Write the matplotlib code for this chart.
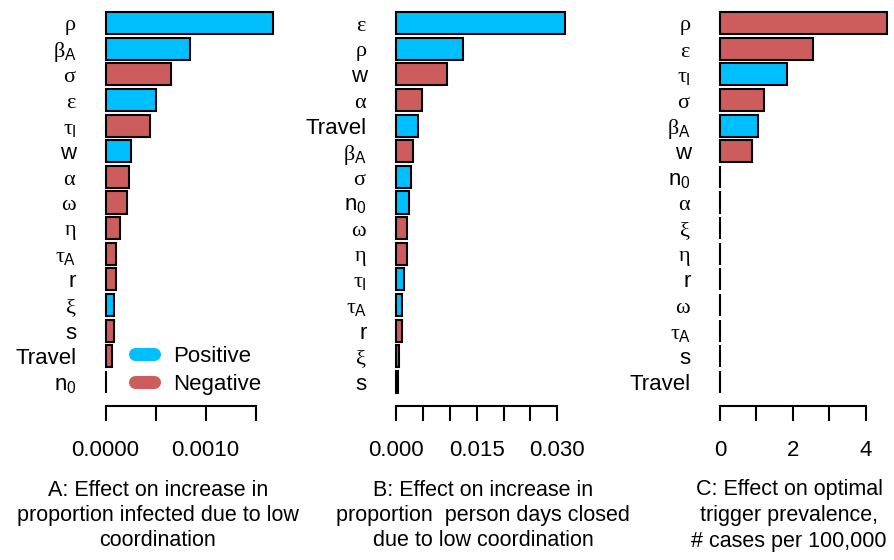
import matplotlib
matplotlib.use('Agg')
import matplotlib.pyplot as plt
from matplotlib.lines import Line2D

plt.rcParams['font.family'] = ['Liberation Sans', 'DejaVu Sans']
plt.rcParams['mathtext.fontset'] = 'custom'
plt.rcParams['mathtext.rm'] = 'Liberation Sans'
plt.rcParams['mathtext.it'] = 'Liberation Serif'
plt.rcParams['mathtext.bf'] = 'Liberation Sans:bold'

POS = '#00BFFF'
NEG = '#CD5C5C'

# panel A: increase in proportion infected
labels_a = [r'$\rho$', r'$\beta_\mathrm{A}$', r'$\sigma$', r'$\varepsilon$', r'$\tau_\mathrm{I}$',
            'w', r'$\alpha$', r'$\omega$', r'$\eta$', r'$\tau_\mathrm{A}$', 'r', r'$\xi$', 's',
            'Travel', r'n$_\mathrm{0}$']
values_a = [0.00167, 0.00084, 0.00065, 0.00050, 0.00044, 0.00025, 0.00023, 0.00021,
            0.00014, 0.00010, 0.00010, 0.00008, 0.00008, 0.00006, 0.000002]
signs_a = ['+', '+', '-', '+', '-', '+', '-', '-', '-', '-', '-', '+', '-', '-', '-']

# panel B: increase in proportion person days closed
labels_b = [r'$\varepsilon$', r'$\rho$', 'w', r'$\alpha$', 'Travel', r'$\beta_\mathrm{A}$',
            r'$\sigma$', r'n$_\mathrm{0}$', r'$\omega$', r'$\eta$', r'$\tau_\mathrm{I}$',
            r'$\tau_\mathrm{A}$', 'r', r'$\xi$', 's']
values_b = [0.0314, 0.0125, 0.0094, 0.0048, 0.0040, 0.0032, 0.0027, 0.0024, 0.0020,
            0.0020, 0.00155, 0.00106, 0.00106, 0.0006, 0.0003]
signs_b = ['+', '+', '-', '-', '+', '-', '+', '+', '-', '-', '+', '+', '-', '-', '-']

# panel C: optimal trigger prevalence
labels_c = [r'$\rho$', r'$\varepsilon$', r'$\tau_\mathrm{I}$', r'$\sigma$', r'$\beta_\mathrm{A}$',
            'w', r'n$_\mathrm{0}$', r'$\alpha$', r'$\xi$', r'$\eta$', 'r', r'$\omega$',
            r'$\tau_\mathrm{A}$', 's', 'Travel']
values_c = [4.58, 2.56, 1.85, 1.22, 1.05, 0.87, 0, 0, 0, 0, 0, 0, 0, 0, 0]
signs_c = ['-', '-', '+', '-', '+', '-', '-', '-', '-', '-', '-', '-', '-', '-', '-']

ticks_a = [0, 0.0005, 0.0010, 0.0015]
ticklabels_a = ['0.0000', '', '0.0010', '']
ticks_b = [0, 0.005, 0.010, 0.015, 0.020, 0.025, 0.030]
ticklabels_b = ['0.000', '', '', '0.015', '', '', '0.030']
ticks_c = [0, 1, 2, 3, 4]
ticklabels_c = ['0', '', '2', '', '4']

titles = [['A: Effect on increase in', 'proportion infected due to low', 'coordination'],
          ['B: Effect on increase in', 'proportion  person days closed', 'due to low coordination'],
          ['C: Effect on optimal', 'trigger prevalence,', '# cases per 100,000']]

W, H = 894, 560
fig = plt.figure(figsize=(W / 100, H / 100), dpi=100)

# (zero pixel, pixels per unit, right pixel, title centre)
panels = [
    (labels_a, values_a, signs_a, ticks_a, ticklabels_a, 105.5, 1e5, 290, 158),
    (labels_b, values_b, signs_b, ticks_b, ticklabels_b, 396, 5377, 585, 483),
    (labels_c, values_c, signs_c, ticks_c, ticklabels_c, 720, 36.42, 893, 789),
]

top_px, bot_px = 8, 396
row0, step = 23, 25.64
axes = []
for (labs, vals, sg, tk, tkl, zero, scale, right, tcx), ttl in zip(panels, titles):
    left = zero - 7
    ax = fig.add_axes([left / W, 1 - bot_px / H, (right - left) / W, (bot_px - top_px) / H])
    for side in ['top', 'right', 'left']:
        ax.spines[side].set_visible(False)
    ax.spines['bottom'].set_position(('outward', 7))
    ax.spines['bottom'].set_linewidth(1.5)
    n = len(vals)
    cols = [POS if s == '+' else NEG for s in sg]
    ax.barh(range(n), vals, height=0.86, color=cols, edgecolor='black', linewidth=1.5,
            clip_on=False)
    ax.set_xlim((left - zero) / scale, (right - zero) / scale)
    ax.set_ylim((bot_px - row0) / step, (top_px - row0) / step)
    ax.set_yticks(range(n))
    ax.set_yticklabels(labs)
    ax.tick_params(axis='y', length=0, pad=16, labelsize=16)
    ax.set_xticks(tk)
    ax.set_xticklabels(tkl)
    ax.tick_params(axis='x', length=10.8, width=1.5, pad=14, labelsize=16)
    ax.spines['bottom'].set_bounds(tk[0], tk[-1])
    for i, line in enumerate(ttl):
        fig.text(tcx / W, 1 - (490 + i * 25.5) / H, line, ha='center', va='center', fontsize=15.5)
    axes.append(ax)

handles = [Line2D([], [], color=POS, lw=9.4, solid_capstyle='round'),
           Line2D([], [], color=NEG, lw=9.4, solid_capstyle='round')]
axes[0].legend(handles, ['Positive', 'Negative'], loc='upper left',
               bbox_to_anchor=(134.5 / W, 1 - 346 / H), bbox_transform=fig.transFigure,
               frameon=False, fontsize=16, handlelength=0.86, handletextpad=0.88,
               labelspacing=0.32, borderpad=0, borderaxespad=0)

fig.savefig('out.png', dpi=100)
